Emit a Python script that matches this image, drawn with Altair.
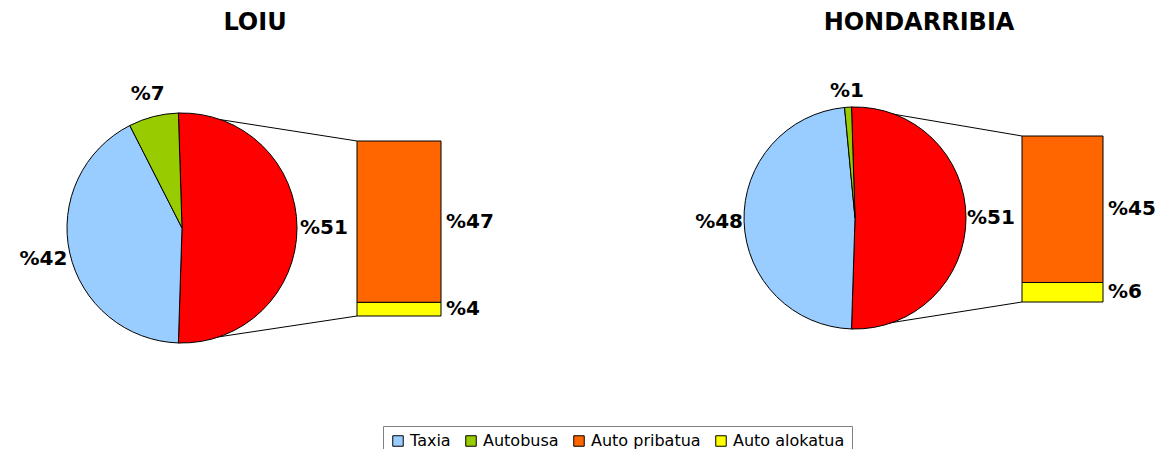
import math
import altair as alt
import pandas as pd

# ---- data ----
categories = ["Taxia", "Autobusa", "Auto pribatua", "Auto alokatua"]
loiu_values = [42, 7, 47, 4]
hondarribia_values = [48, 1, 45, 6]
titles = ["LOIU", "HONDARRIBIA"]
other_label = "Auto (guztira)"

colors = ["#99CCFF", "#99CC00", "#FF6600", "#FFFF00"]
other_color = "#FF0000"
FONT = "DejaVu Sans"

color_enc = alt.Color(
    "category:N",
    scale=alt.Scale(domain=categories + [other_label], range=colors + [other_color]),
    legend=alt.Legend(
        orient="none", legendX=375, legendY=418, direction="horizontal",
        values=categories, title=None, symbolType="square", symbolSize=110,
        symbolStrokeColor="black", symbolStrokeWidth=1, symbolOpacity=1,
        labelFont=FONT, labelFontSize=16, labelColor="black",
        columnPadding=12, padding=7, strokeColor="#808080", fillColor="white",
        labelOffset=4,
    ),
)


def panel(title, values, cx, cy, r, bx0, bx1, btop, bbot, label_r, top_label_r, tx):
    other = values[2] + values[3]
    total = sum(values)
    pie_df = pd.DataFrame({
        "category": [other_label, categories[0], categories[1]],
        "value": [other, values[0], values[1]],
        "order": [0, 1, 2],
    })
    pie_df["label"] = ["%" + str(v) for v in pie_df["value"]]
    start = math.pi / 2 - (other / total) * math.pi
    theta = alt.Theta("value:Q", stack=True,
                      scale=alt.Scale(range=[start, start + 2 * math.pi]))

    pie_base = alt.Chart(pie_df).encode(
        theta=theta, order=alt.Order("order:Q"),
        x=alt.value(cx), y=alt.value(cy),
    )
    pie = pie_base.mark_arc(radius=r, stroke="black", strokeWidth=1).encode(color=color_enc)
    text_style = dict(font=FONT, fontSize=20, fontWeight="bold", color="black",
                      align="center", baseline="middle")
    # side labels sit further out than the label above the pie (text is wider than tall)
    pie_text = pie_base.mark_text(radius=label_r, **text_style).encode(
        text="label:N",
        opacity=alt.condition(alt.datum.category == categories[1], alt.value(0), alt.value(1)),
    )
    pie_text_top = pie_base.mark_text(radius=top_label_r, **text_style).encode(
        text="label:N",
        opacity=alt.condition(alt.datum.category == categories[1], alt.value(1), alt.value(0)),
    )

    bar_df = pd.DataFrame({
        "category": [categories[3], categories[2]],
        "value": [values[3], values[2]],
    })
    bar_df["start"] = bar_df["value"].cumsum() - bar_df["value"]
    bar_df["end"] = bar_df["value"].cumsum()
    bar_df["mid"] = (bar_df["start"] + bar_df["end"]) / 2
    bar_df["label"] = ["%" + str(v) for v in bar_df["value"]]
    yscale = alt.Scale(domain=[0, other], range=[bbot, btop])

    bar = alt.Chart(bar_df).mark_rect(stroke="black", strokeWidth=1).encode(
        x=alt.value(bx0), x2=alt.value(bx1),
        y=alt.Y("start:Q", scale=yscale, axis=None), y2="end:Q",
        color=color_enc,
    )
    bar_text = alt.Chart(bar_df).mark_text(
        font=FONT, fontSize=20, fontWeight="bold", color="black",
        align="left", baseline="middle", dx=5,
    ).encode(
        x=alt.value(bx1), y=alt.Y("mid:Q", scale=yscale, axis=None), text="label:N",
    )

    # connector lines from the ends of the combined slice to the bar corners
    a0 = start
    a1 = start + (other / total) * 2 * math.pi
    p0 = (cx + r * math.sin(a0), cy - r * math.cos(a0))
    p1 = (cx + r * math.sin(a1), cy - r * math.cos(a1))
    one = alt.Data(values=[{"k": 1}])
    line_top = alt.Chart(one).mark_rule(color="black", strokeWidth=1).encode(
        x=alt.value(p0[0]), y=alt.value(p0[1]), x2=alt.value(bx0), y2=alt.value(btop))
    line_bot = alt.Chart(one).mark_rule(color="black", strokeWidth=1).encode(
        x=alt.value(p1[0]), y=alt.value(p1[1]), x2=alt.value(bx0), y2=alt.value(bbot))

    title_df = pd.DataFrame({"t": [title]})
    title_mark = alt.Chart(title_df).mark_text(
        font=FONT, fontSize=24, fontWeight="bold", color="black",
        align="center", baseline="middle",
    ).encode(x=alt.value(tx), y=alt.value(15), text="t:N")

    return alt.layer(line_top, line_bot, bar, pie, pie_text, pie_text_top, bar_text, title_mark)


p1 = panel(titles[0], loiu_values, 174, 220, 115, 349, 433, 133, 308, 142, 138, 247)
p2 = panel(titles[1], hondarribia_values, 847, 210, 111, 1014, 1095, 128, 294, 136, 127, 911)

chart = alt.layer(p1, p2).resolve_scale(
    y="independent", theta="independent"
).properties(
    width=1154, height=441, autosize=alt.AutoSizeParams(type="none"), padding=0,
).configure_view(stroke=None)

chart.save("out.html", embed_options={"renderer": "svg", "actions": False})
